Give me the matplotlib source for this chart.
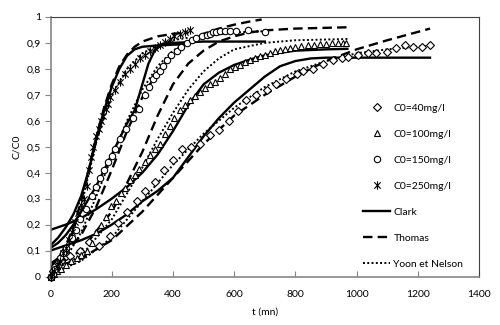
import matplotlib.pyplot as plt
from matplotlib.path import Path
from matplotlib.lines import Line2D

plt.rcParams['font.family'] = ['Lato', 'DejaVu Sans']

# measured points, C0 = 40 mg/l (diamonds)
t_40 = [0, 8, 16, 33, 50, 65, 96, 126, 159, 194, 221, 251, 282, 310, 341, 371, 401, 431,
        460, 488, 520, 550, 583, 612, 640, 673, 706, 738, 771, 804, 825, 858, 891, 923,
        951, 973, 1005, 1038, 1065, 1098, 1130, 1158, 1185, 1213, 1240]
c_40 = [0.0, 0.02, 0.04, 0.06, 0.08, 0.08, 0.10, 0.135, 0.116, 0.157, 0.206, 0.25, 0.29,
        0.33, 0.366, 0.41, 0.45, 0.49, 0.50, 0.51, 0.546, 0.566, 0.60, 0.636, 0.68, 0.70,
        0.72, 0.74, 0.76, 0.78, 0.79, 0.80, 0.82, 0.835, 0.84, 0.845, 0.855, 0.86, 0.862,
        0.865, 0.88, 0.89, 0.885, 0.885, 0.89]

# C0 = 100 mg/l (triangles)
t_100 = [0, 10, 20, 35, 52, 68, 85, 100, 118, 135, 150, 165, 180, 199, 215, 230, 243, 260,
         275, 290, 308, 325, 341, 357, 373, 390, 405, 423, 440, 455, 472, 488, 504, 520,
         537, 553, 570, 586, 602, 618, 635, 651, 668, 684, 700, 716, 733, 749, 765, 782,
         800, 820, 840, 860, 880, 900, 920, 940, 955, 967]
c_100 = [0.0, 0.01, 0.02, 0.03, 0.045, 0.06, 0.07, 0.085, 0.10, 0.13, 0.17, 0.20, 0.23,
         0.27, 0.29, 0.32, 0.34, 0.37, 0.39, 0.415, 0.44, 0.47, 0.49, 0.51, 0.55, 0.58,
         0.61, 0.64, 0.66, 0.68, 0.695, 0.71, 0.725, 0.74, 0.75, 0.765, 0.78, 0.80, 0.808,
         0.816, 0.826, 0.835, 0.843, 0.85, 0.855, 0.86, 0.867, 0.874, 0.877, 0.88, 0.884,
         0.887, 0.89, 0.892, 0.894, 0.896, 0.898, 0.90, 0.90, 0.90]

# C0 = 150 mg/l (circles)
t_150 = [0, 8, 15, 30, 40, 52, 69, 82, 96, 115, 134, 148, 161, 175, 188, 200, 210, 226,
         248, 270, 290, 310, 323, 335, 346, 357, 368, 379, 395, 412, 428, 445, 461, 477,
         494, 510, 520, 531, 542, 553, 570, 586, 607, 645, 700]
c_150 = [0.0, 0.01, 0.03, 0.07, 0.09, 0.11, 0.15, 0.18, 0.22, 0.26, 0.31, 0.345, 0.38,
         0.41, 0.44, 0.465, 0.49, 0.53, 0.57, 0.61, 0.645, 0.70, 0.73, 0.76, 0.775, 0.79,
         0.81, 0.835, 0.855, 0.87, 0.885, 0.90, 0.91, 0.92, 0.925, 0.93, 0.935, 0.94,
         0.942, 0.944, 0.944, 0.944, 0.944, 0.95, 0.94]

# C0 = 250 mg/l (stars)
t_250 = [0, 5, 10, 20, 30, 40, 50, 60, 70, 80, 90, 100, 110, 118, 125, 133, 140, 150, 158,
         165, 172, 180, 188, 195, 210, 226, 242, 259, 275, 292, 308, 324, 340, 357, 373,
         390, 405, 423, 440, 455]
c_250 = [0.0, 0.01, 0.02, 0.04, 0.06, 0.09, 0.11, 0.14, 0.17, 0.21, 0.245, 0.275, 0.30,
         0.35, 0.41, 0.46, 0.50, 0.54, 0.57, 0.60, 0.62, 0.645, 0.665, 0.69, 0.72, 0.75,
         0.78, 0.80, 0.82, 0.84, 0.855, 0.87, 0.88, 0.893, 0.905, 0.915, 0.927, 0.935,
         0.94, 0.95]

# model curves
clark_t_40 = [0, 50, 100, 150, 200, 250, 300, 350, 400, 450, 500, 550, 600, 650, 700, 750,
              800, 850, 900, 1000, 1240]
clark_c_40 = [0.10, 0.12, 0.14, 0.165, 0.20, 0.24, 0.29, 0.33, 0.38, 0.46, 0.54, 0.61,
              0.67, 0.72, 0.77, 0.81, 0.83, 0.84, 0.843, 0.843, 0.843]
clark_t_100 = [0, 50, 100, 150, 200, 250, 300, 350, 400, 450, 500, 550, 600, 650, 700,
               750, 800, 900, 970]
clark_c_100 = [0.18, 0.20, 0.225, 0.26, 0.30, 0.345, 0.40, 0.47, 0.56, 0.66, 0.74, 0.785,
               0.815, 0.835, 0.852, 0.862, 0.87, 0.875, 0.877]
clark_t_150 = [0, 25, 50, 75, 100, 125, 150, 175, 200, 225, 250, 275, 300, 320, 340, 360,
               380, 400, 500, 700]
clark_c_150 = [0.11, 0.13, 0.16, 0.20, 0.25, 0.30, 0.35, 0.41, 0.47, 0.53, 0.59, 0.64,
               0.74, 0.82, 0.87, 0.89, 0.90, 0.90, 0.905, 0.905]
clark_t_250 = [0, 25, 50, 75, 100, 125, 150, 175, 200, 225, 250, 275, 300, 350, 400, 450]
clark_c_250 = [0.12, 0.15, 0.19, 0.24, 0.31, 0.41, 0.53, 0.64, 0.73, 0.80, 0.85, 0.875,
               0.885, 0.89, 0.893, 0.895]

thomas_t_40 = [0, 100, 200, 300, 400, 500, 600, 700, 800, 900, 1000, 1100, 1240]
thomas_c_40 = [0.03, 0.07, 0.14, 0.25, 0.38, 0.51, 0.62, 0.70, 0.77, 0.83, 0.875, 0.91,
               0.955]
thomas_t_100 = [0, 100, 200, 250, 300, 350, 400, 450, 500, 550, 600, 650, 700, 800, 970]
thomas_c_100 = [0.03, 0.10, 0.25, 0.36, 0.48, 0.62, 0.74, 0.82, 0.87, 0.905, 0.925, 0.94,
                0.948, 0.955, 0.96]
thomas_t_150 = [0, 50, 100, 150, 200, 250, 300, 350, 400, 450, 500, 550, 600, 650, 690]
thomas_c_150 = [0.05, 0.09, 0.16, 0.27, 0.41, 0.56, 0.69, 0.79, 0.855, 0.90, 0.935, 0.955,
                0.97, 0.982, 0.99]
thomas_t_250 = [0, 25, 50, 75, 100, 125, 150, 175, 200, 225, 250, 275, 300, 350, 400, 450]
thomas_c_250 = [0.04, 0.07, 0.12, 0.19, 0.29, 0.41, 0.54, 0.65, 0.74, 0.81, 0.855, 0.885,
                0.905, 0.925, 0.935, 0.94]

yoon_t_40 = [0, 100, 200, 300, 400, 450, 500, 600, 700, 800, 900, 1000, 1100, 1240]
yoon_c_40 = [0.01, 0.06, 0.15, 0.29, 0.43, 0.49, 0.55, 0.65, 0.73, 0.79, 0.83, 0.86, 0.875,
             0.89]
yoon_t_100 = [0, 100, 200, 300, 350, 400, 450, 500, 550, 600, 700, 800, 970]
yoon_c_100 = [0.02, 0.08, 0.22, 0.42, 0.53, 0.63, 0.72, 0.79, 0.84, 0.875, 0.90, 0.91,
              0.915]
yoon_t_150 = [0, 50, 100, 150, 200, 250, 300, 350, 400, 450, 500, 600, 700]
yoon_c_150 = [0.02, 0.07, 0.17, 0.31, 0.46, 0.60, 0.72, 0.81, 0.87, 0.905, 0.925, 0.94,
              0.945]
yoon_t_250 = [0, 50, 100, 150, 200, 250, 300, 350, 400, 450]
yoon_c_250 = [0.02, 0.10, 0.27, 0.52, 0.70, 0.80, 0.86, 0.89, 0.91, 0.92]

series_labels = ['C0=40mg/l', 'C0=100mg/l', 'C0=150mg/l', 'C0=250mg/l']
model_labels = ['Clark', 'Thomas', 'Yoon et Nelson']
x_ticks = [0, 200, 400, 600, 800, 1000, 1200, 1400]
y_ticks = [0, 0.1, 0.2, 0.3, 0.4, 0.5, 0.6, 0.7, 0.8, 0.9, 1]
y_tick_labels = ['0', '0,1', '0,2', '0,3', '0,4', '0,5', '0,6', '0,7', '0,8', '0,9', '1']

# excel style star: x plus a vertical bar
star = Path([(0, -1), (0, 1), (-0.75, -0.75), (0.75, 0.75), (-0.75, 0.75), (0.75, -0.75)],
            [Path.MOVETO, Path.LINETO] * 3)

fig = plt.figure(figsize=(5, 3.25), dpi=100)
ax = fig.add_axes([0.101, 0.149, 0.857, 0.799])

lw = 1.7
dash = (0, (4, 2.2))
dot = (0, (1, 1.2))
for tt, cc in [(clark_t_40, clark_c_40), (clark_t_100, clark_c_100),
               (clark_t_150, clark_c_150), (clark_t_250, clark_c_250)]:
    ax.plot(tt, cc, color='black', lw=lw, zorder=2)
for tt, cc in [(thomas_t_40, thomas_c_40), (thomas_t_100, thomas_c_100),
               (thomas_t_150, thomas_c_150), (thomas_t_250, thomas_c_250)]:
    ax.plot(tt, cc, color='black', lw=lw, ls=dash, zorder=2)
for tt, cc in [(yoon_t_40, yoon_c_40), (yoon_t_100, yoon_c_100),
               (yoon_t_150, yoon_c_150), (yoon_t_250, yoon_c_250)]:
    ax.plot(tt, cc, color='black', lw=1.4, ls=dot, zorder=2)

mk = dict(ls='none', mfc='white', mec='black', mew=0.8, ms=5, clip_on=False, zorder=3)
ax.plot(t_40, c_40, marker='D', **dict(mk, ms=4.4))
ax.plot(t_100, c_100, marker='^', **mk)
ax.plot(t_150, c_150, marker='o', **dict(mk, ms=4.6))
ax.plot(t_250, c_250, marker=star, **dict(mk, mfc='none', ms=6))

ax.set_xlim(0, 1400)
ax.set_ylim(0, 1)
ax.set_xticks(x_ticks)
ax.set_yticks(y_ticks)
ax.set_yticklabels(y_tick_labels)
ax.tick_params(axis='x', direction='in', length=4, color='#868686', labelsize=7.5, pad=10)
ax.tick_params(axis='y', direction='out', length=4, color='#868686', labelsize=7.5, pad=3)
for s in ['left', 'bottom']:
    ax.spines[s].set_color('#868686')
    ax.spines[s].set_linewidth(1.2)
for s in ['top', 'right']:
    ax.spines[s].set_color('#404040')
    ax.spines[s].set_linewidth(0.8)
ax.set_xlabel('t (mn)', fontsize=7.5, labelpad=6)
ax.set_ylabel('C/C0', fontsize=7.5, labelpad=4)

handles = [Line2D([], [], ls='none', marker='D', mfc='white', mec='black', mew=0.8, ms=4.4),
           Line2D([], [], ls='none', marker='^', mfc='white', mec='black', mew=0.8, ms=5),
           Line2D([], [], ls='none', marker='o', mfc='white', mec='black', mew=0.8, ms=4.6),
           Line2D([], [], ls='none', marker=star, mfc='none', mec='black', mew=0.8, ms=6),
           Line2D([], [], color='black', lw=lw),
           Line2D([], [], color='black', lw=lw, ls=dash),
           Line2D([], [], color='black', lw=1.4, ls=dot)]
ax.legend(handles, series_labels + model_labels, loc='lower left',
          bbox_to_anchor=(0.72, 0.015), frameon=False, fontsize=7.5,
          handlelength=2.6, handletextpad=0.3, labelspacing=1.6, borderaxespad=0)

fig.savefig('out.png', dpi=100)
